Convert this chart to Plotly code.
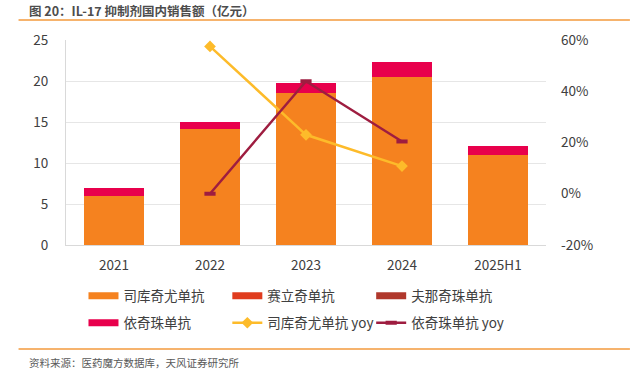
import plotly.graph_objects as go

categories = ["2021", "2022", "2023", "2024", "2025H1"]
secukinumab = [6.0, 14.1, 18.5, 20.5, 11.0]      # 司库奇尤单抗
vunakizumab = [0, 0, 0, 0, 0]                    # 赛立奇单抗
xeligekimab = [0, 0, 0, 0, 0]                    # 夫那奇珠单抗
ixekizumab = [0.9, 0.9, 1.3, 1.8, 1.05]          # 依奇珠单抗
secukinumab_yoy = [None, 57.5, 23.0, 10.8, None]  # %
ixekizumab_yoy = [None, 0.0, 43.9, 20.4, None]    # %

left_ticks = [0, 5, 10, 15, 20, 25]
right_ticks = [-20, 0, 20, 40, 60]
right_ticktext = [f"{v}%" for v in right_ticks]

names = ["司库奇尤单抗", "赛立奇单抗", "夫那奇珠单抗", "依奇珠单抗", "司库奇尤单抗 yoy", "依奇珠单抗 yoy"]
colors = ["#F5821F", "#E03C1E", "#B0382C", "#E8004C", "#FDBB2A", "#9E1D40"]
legend_ids = ["legend", "legend2", "legend3", "legend4", "legend5", "legend6"]

FONT = "Noto Sans CJK SC"
fig = go.Figure()

bar_series = [secukinumab, vunakizumab, xeligekimab, ixekizumab]
for vals, nm, c in zip(bar_series, names[:4], colors[:4]):
    fig.add_trace(go.Bar(x=categories, y=vals, name=nm, marker=dict(color=c, line=dict(width=0)),
                         showlegend=False, hoverinfo="y"))

# legend proxies for bar series (wide swatches)
for i, (nm, c) in enumerate(zip(names[:4], colors[:4])):
    fig.add_trace(go.Scatter(x=[None], y=[None], mode="lines", name=nm,
                             line=dict(color=c, width=7), legend=legend_ids[i]))

fig.add_trace(go.Scatter(x=categories, y=secukinumab_yoy, name=names[4], yaxis="y2",
                         mode="lines+markers", line=dict(color=colors[4], width=2.5),
                         marker=dict(symbol="diamond", size=9, color=colors[4]),
                         legend=legend_ids[4]))
fig.add_trace(go.Scatter(x=categories, y=ixekizumab_yoy, name=names[5], yaxis="y2",
                         mode="lines+markers", line=dict(color=colors[5], width=2.5),
                         marker=dict(symbol="line-ew", size=8, color=colors[5],
                                     line=dict(width=4, color=colors[5])),
                         legend=legend_ids[5]))

W, H = 630, 372
ml, mr, mt, mb = 65.5, 84, 40, 127
pw, ph = W - ml - mr, H - mt - mb

def px2paper_x(px):
    return (px - ml) / pw

def px2paper_y(py):
    return (H - mb - py) / ph

legend_cols_px = [83, 227, 371]
legend_rows_px = [296, 323]
legend_layout = {}
for i, lid in enumerate(legend_ids):
    legend_layout[lid] = dict(
        orientation="h", x=px2paper_x(legend_cols_px[i % 3]), xanchor="left",
        y=px2paper_y(legend_rows_px[i // 3]), yanchor="middle",
        font=dict(size=13.5, color="#404040"), bgcolor="rgba(0,0,0,0)")

fig.update_layout(
    width=W, height=H,
    margin=dict(l=ml, r=mr, t=mt, b=mb, pad=0),
    paper_bgcolor="white", plot_bgcolor="white",
    barmode="stack", bargap=0.375,
    font=dict(family=FONT, size=13.5, color="#595959"),
    xaxis=dict(type="category", showline=True, linecolor="#D9D9D9", linewidth=1,
               ticks="", tickfont=dict(size=13.5, color="#404040"), ticklabelstandoff=8),
    yaxis=dict(range=[0, 25], tickvals=left_ticks, showgrid=True, gridcolor="#E6E6E6",
               gridwidth=1, showline=True, linecolor="#D9D9D9", zeroline=False,
               tickfont=dict(size=13.5, color="#404040"), ticklabelstandoff=14),
    yaxis2=dict(range=[-20, 60], tickvals=right_ticks, ticktext=right_ticktext, overlaying="y",
                side="right", showgrid=False, zeroline=False, showline=False,
                tickfont=dict(size=13.5, color="#404040"), ticklabelstandoff=14),
    showlegend=True,
    **legend_layout,
)

fig.add_shape(type="line", xref="paper", yref="paper", x0=px2paper_x(18), x1=px2paper_x(630),
              y0=px2paper_y(20), y1=px2paper_y(20), line=dict(color="#F39A3C", width=1.5))
fig.add_shape(type="line", xref="paper", yref="paper", x0=px2paper_x(18), x1=px2paper_x(630),
              y0=px2paper_y(349), y1=px2paper_y(349), line=dict(color="#F39A3C", width=1.5))
fig.add_annotation(text="<b>图 20：IL-17 抑制剂国内销售额（亿元）</b>", xref="paper", yref="paper",
                   x=px2paper_x(26), y=px2paper_y(10), xanchor="left", yanchor="middle",
                   showarrow=False, font=dict(size=12.5, color="#4D4D4D", family=FONT))
fig.add_annotation(text="资料来源：医药魔方数据库，天风证券研究所", xref="paper", yref="paper",
                   x=px2paper_x(26), y=px2paper_y(362), xanchor="left", yanchor="middle",
                   showarrow=False, font=dict(size=10.5, color="#595959", family=FONT))

fig.write_html("out.html", config={"displayModeBar": False},
               post_script="document.body.style.margin='0px';document.body.style.padding='0px';")
